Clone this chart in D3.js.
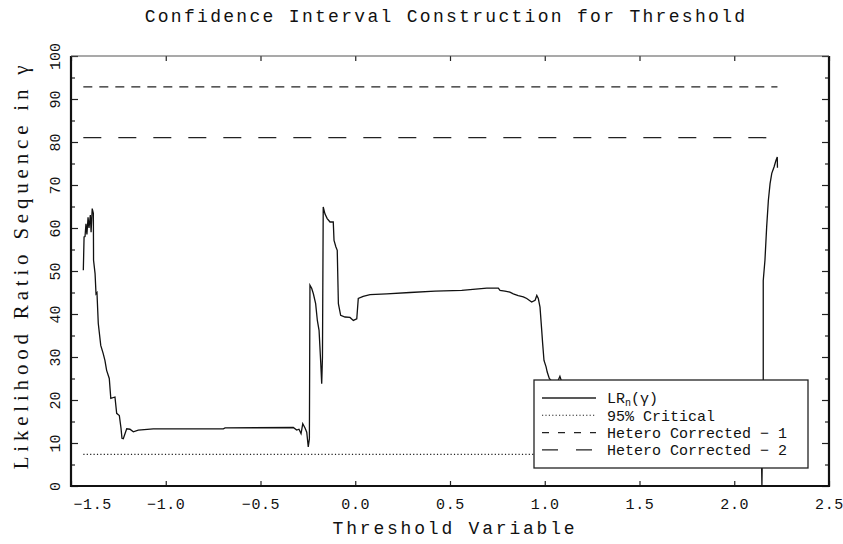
<!DOCTYPE html>
<html>
<head>
<meta charset="utf-8">
<script src="https://cdn.jsdelivr.net/npm/d3@7"></script>
<style>
  body { margin: 0; background: #fff; }
  text { font-family: "Liberation Mono", "DejaVu Sans Mono", monospace; fill: #111; }
  text.serif { font-family: "Liberation Serif", "DejaVu Serif", serif; }
</style>
</head>
<body>
<script>
// threshold variable (gamma) and LR_n(gamma)
const gammaValues = [
    -1.435, -1.431, -1.426, -1.421, -1.416, -1.410, -1.405, -1.398, -1.394, -1.388,
    -1.382, -1.381, -1.373, -1.368, -1.363, -1.356, -1.343, -1.330, -1.321, -1.312,
    -1.298, -1.290, -1.268, -1.259, -1.245, -1.236, -1.231, -1.224, -1.206, -1.189,
    -1.171, -1.145, -1.066, -0.696, -0.687, -0.327, -0.309, -0.297, -0.286, -0.277,
    -0.265, -0.256, -0.248, -0.242, -0.239, -0.230, -0.221, -0.209, -0.200, -0.191,
    -0.182, -0.177, -0.173, -0.169, -0.160, -0.148, -0.133, -0.116, -0.112, -0.102,
    -0.095, -0.089, -0.077, -0.054, -0.028, -0.010, 0.008, 0.016, 0.042, 0.078,
    0.166, 0.289, 0.421, 0.562, 0.694, 0.755, 0.764, 0.790, 0.816, 0.834,
    0.860, 0.887, 0.905, 0.931, 0.949, 0.958, 0.966, 0.975, 0.984, 0.989,
    0.996, 1.007, 1.013, 1.024, 1.044, 1.070, 1.080, 1.091, 1.150, 1.300,
    1.500, 1.700, 1.900, 2.050, 2.120, 2.144, 2.146, 2.153, 2.153, 2.162, 2.171,
    2.180, 2.189, 2.198, 2.210, 2.220, 2.227, 2.228
];
const lrValues = [
    50.2, 57.9, 58.0, 61.0, 58.5, 62.5, 60.0, 63.0, 59.0, 64.5,
    63.4, 52.5, 49.4, 44.7, 45.0, 37.8, 32.7, 30.8, 29.2, 26.9,
    25.0, 20.4, 20.7, 16.9, 16.4, 13.4, 11.1, 11.0, 13.3, 13.2,
    12.6, 13.0, 13.3, 13.3, 13.5, 13.6, 13.0, 13.2, 12.2, 14.5,
    13.5, 12.5, 9.1, 11.0, 46.7, 46.0, 44.7, 42.4, 38.5, 36.2,
    28.5, 23.8, 30.0, 64.9, 63.3, 62.2, 61.4, 61.4, 57.1, 55.6,
    54.8, 42.4, 39.7, 39.3, 39.2, 38.5, 38.9, 43.6, 44.1, 44.5,
    44.7, 45.0, 45.3, 45.5, 46.0, 46.0, 45.5, 45.3, 45.1, 44.7,
    44.3, 44.0, 43.6, 42.8, 43.2, 44.3, 43.6, 41.6, 36.2, 33.1,
    29.2, 27.7, 26.5, 25.0, 24.0, 24.5, 25.5, 24.0, 22.0, 18.0,
    15.0, 12.0, 10.0, 8.0, 7.0, 6.0, 0.0, 24.0, 47.8, 52.5, 60.2,
    66.4, 70.3, 72.7, 74.2, 75.7, 76.5, 74.0
];
const criticalValue = 7.35;
const heteroValues = [92.8, 81.0];
const legendLabels = ['LR', '95% Critical', 'Hetero Corrected \u2212 1', 'Hetero Corrected \u2212 2'];
const xTicks = [-1.5, -1.0, -0.5, 0.0, 0.5, 1.0, 1.5, 2.0, 2.5];
const yTicks = [0, 10, 20, 30, 40, 50, 60, 70, 80, 90, 100];
const yMinorTicks = [5, 15, 25, 35, 45, 55, 65, 75, 85, 95];

const W = 843, H = 544;
const margin = {left: 71, right: 14, top: 56, bottom: 58};

function main()
{
    const svg = d3.select('body').append('svg')
        .attr('width', W)
        .attr('height', H);

    const x = d3.scaleLinear().domain([-1.5, 2.5]).range([margin.left, W - margin.right]);
    const y = d3.scaleLinear().domain([0, 100]).range([H - margin.bottom, margin.top]);
    const x0 = x.range()[0], x1 = x.range()[1];
    const y0 = y.range()[0], y1 = y.range()[1];
    const fmt = d3.format('.1f');

    // axes, ticks pointing inward
    const xb = svg.append('g')
        .attr('transform', `translate(0,${y0})`)
        .call(d3.axisBottom(x).tickValues(xTicks).tickSize(-5).tickPadding(12)
            .tickFormat(d => fmt(d).replace('-', '\u2212')));
    xb.selectAll('text').attr('font-size', 15).attr('letter-spacing', 0.6);
    xb.selectAll('.tick').filter(d => d === xTicks[0]).select('text')
        .attr('text-anchor', 'start').attr('x', 2);

    svg.append('g')
        .attr('transform', `translate(0,${y1})`)
        .call(d3.axisTop(x).tickValues(xTicks).tickSize(-5).tickFormat(''));

    const yl = svg.append('g')
        .attr('transform', `translate(${x0},0)`)
        .call(d3.axisLeft(y).tickValues(yTicks).tickSize(-7).tickFormat(''));
    yl.selectAll('.tick').append('text')
        .attr('transform', 'translate(-16,0) rotate(-90)')
        .attr('text-anchor', 'middle')
        .attr('dy', '0.35em')
        .attr('font-size', 15)
        .attr('fill', '#111')
        .text(d => d);
    svg.append('g')
        .attr('transform', `translate(${x0},0)`)
        .call(d3.axisLeft(y).tickValues(yMinorTicks).tickSize(-4).tickFormat(''));
    svg.append('g')
        .attr('transform', `translate(${x1},0)`)
        .call(d3.axisRight(y).tickValues(yTicks).tickSize(-7).tickFormat(''));
    svg.append('g')
        .attr('transform', `translate(${x1},0)`)
        .call(d3.axisRight(y).tickValues(yMinorTicks).tickSize(-4).tickFormat(''));

    svg.selectAll('.domain').remove();
    svg.selectAll('.tick line').attr('stroke', '#222').attr('stroke-width', 1.2);

    // frame: heavy on three sides, lighter on top
    const frame = svg.append('g').attr('stroke', '#111').attr('fill', 'none');
    frame.append('path').attr('stroke-width', 2.2)
        .attr('d', `M${x0},${y1}V${y0}H${x1}V${y1}`);
    frame.append('path').attr('stroke-width', 1.2).attr('stroke', '#555')
        .attr('d', `M${x0},${y1}H${x1}`);

    const gMin = d3.min(gammaValues), gMax = d3.max(gammaValues);

    // reference lines
    const refs = [
        {v: criticalValue, dash: '1.2,2.2', w: 1.1},
        {v: heteroValues[0], dash: '9,7', w: 1.3},
        {v: heteroValues[1], dash: '18,17', w: 1.3},
    ];
    svg.append('g').selectAll('line').data(refs).enter().append('line')
        .attr('x1', x(gMin)).attr('x2', x(gMax))
        .attr('y1', d => y(d.v)).attr('y2', d => y(d.v))
        .attr('stroke', '#222')
        .attr('stroke-width', d => d.w)
        .attr('stroke-dasharray', d => d.dash);

    // LR sequence
    const line = d3.line()
        .x((d, i) => x(gammaValues[i]))
        .y(d => y(d));
    svg.append('path')
        .attr('d', line(lrValues))
        .attr('fill', 'none')
        .attr('stroke', '#111')
        .attr('stroke-width', 1.3);

    // legend
    const lg = svg.append('g').attr('transform', 'translate(534,380)');
    lg.append('rect')
        .attr('width', 274).attr('height', 88)
        .attr('fill', '#fff').attr('stroke', '#222').attr('stroke-width', 1.3);
    const styles = [
        {dash: null, w: 1.3},
        {dash: '1.2,2.2', w: 1.1},
        {dash: '7,9', w: 1.3},
        {dash: '16,18', w: 1.3},
    ];
    const rows = lg.selectAll('g.row').data(legendLabels).enter().append('g')
        .attr('class', 'row')
        .attr('transform', (d, i) => `translate(0,${18 + i * 17.3})`);
    rows.append('line')
        .attr('x1', 8).attr('x2', 62)
        .attr('stroke', '#222')
        .attr('stroke-width', (d, i) => styles[i].w)
        .attr('stroke-dasharray', (d, i) => styles[i].dash);
    const lt = rows.append('text')
        .attr('x', 73).attr('dy', '0.35em')
        .attr('font-size', 15);
    lt.each(function(d, i) {
        const t = d3.select(this);
        if (i === 0) {
            t.append('tspan').text('LR');
            t.append('tspan').attr('font-size', 10).attr('dy', 2.5).text('n');
            t.append('tspan').attr('dy', -2.5).text('(\u03b3)');
        } else {
            t.text(d);
        }
    });

    // titles
    svg.append('text')
        .attr('x', 446).attr('y', 22)
        .attr('text-anchor', 'middle')
        .attr('font-size', 18).attr('letter-spacing', 2.3)
        .text('Confidence Interval Construction for Threshold');
    svg.append('text')
        .attr('x', 455).attr('y', 534)
        .attr('text-anchor', 'middle')
        .attr('font-size', 18).attr('letter-spacing', 2.8)
        .text('Threshold Variable');
    svg.append('text')
        .attr('class', 'serif')
        .attr('transform', 'translate(28,265) rotate(-90)')
        .attr('text-anchor', 'middle')
        .attr('font-size', 21).attr('letter-spacing', 4.8)
        .text('Likelihood Ratio Sequence in \u03b3');
}

main();
</script>
</body>
</html>
